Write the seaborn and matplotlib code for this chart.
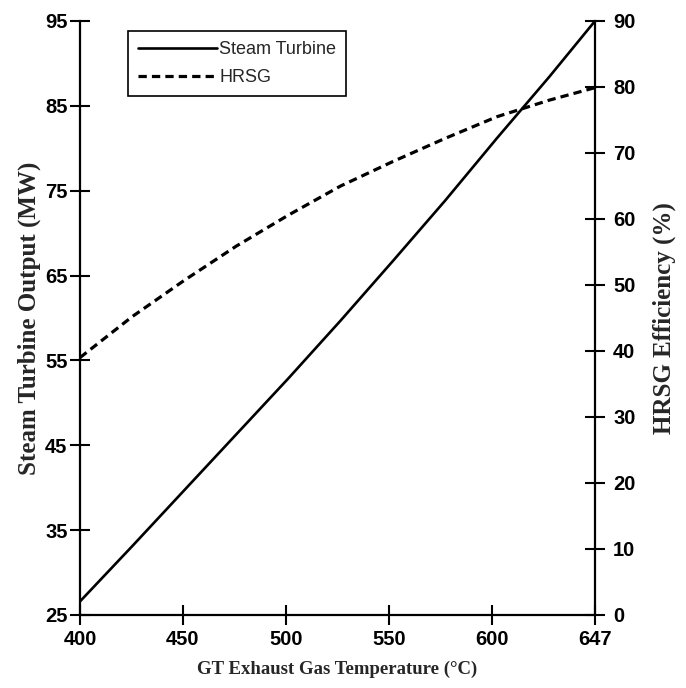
import numpy as np
import pandas as pd
import matplotlib
matplotlib.use("Agg")
import matplotlib.pyplot as plt
import seaborn as sns
from matplotlib.lines import Line2D

# ---- data ----
temperature = [400, 425, 450, 475, 500, 525, 550, 575, 600, 625, 647]
steam_turbine_mw = [26.6, 33.1, 39.7, 46.3, 52.9, 59.7, 66.7, 73.8, 81.2, 88.4, 95.0]
hrsg_efficiency = [39.0, 45.2, 50.7, 55.9, 60.6, 65.0, 68.7, 72.2, 75.5, 78.0, 79.9]

x_ticks_labels = ["400", "450", "500", "550", "600", "647"]
left_ticks = [25, 35, 45, 55, 65, 75, 85, 95]
right_ticks = [0, 10, 20, 30, 40, 50, 60, 70, 80, 90]

df = pd.DataFrame({"T": temperature, "ST": steam_turbine_mw, "HRSG": hrsg_efficiency})

sns.set_style("ticks")
plt.rcParams["font.family"] = ["Liberation Sans", "DejaVu Sans"]

fig = plt.figure(figsize=(6.86, 6.88), dpi=100)
ax = fig.add_axes([80 / 686, 1 - 615 / 688, 515 / 686, 594 / 688])
ax2 = ax.twinx()

dash = (0, (2.6, 1.6))
sns.lineplot(data=df, x="T", y="ST", ax=ax, color="black", linewidth=1.9)
sns.lineplot(data=df, x="T", y="HRSG", ax=ax2, color="black", linewidth=2.3,
             linestyle=dash)

ax.set_xlim(400, 647)
ax.set_ylim(25, 95)
ax2.set_ylim(0, 90)

ax.set_xticks(np.linspace(400, 647, len(x_ticks_labels)))
ax.set_xticklabels(x_ticks_labels)
ax.set_yticks(left_ticks)
ax2.set_yticks(right_ticks)

for lab in ax.get_xticklabels() + ax.get_yticklabels() + ax2.get_yticklabels():
    lab.set_fontfamily("Liberation Sans")
    lab.set_fontsize(14.5)
    lab.set_fontweight("bold")

for a in (ax, ax2):
    a.tick_params(direction="inout", length=14, width=1.5, colors="black", pad=2)
    for s in a.spines.values():
        s.set_linewidth(1.6)
        s.set_color("black")
    a.spines["top"].set_visible(False)
ax.spines["right"].set_visible(False)
ax2.spines["left"].set_visible(False)
ax2.spines["bottom"].set_visible(False)
ax.tick_params(axis="x", pad=4)
ax2.tick_params(axis="y", pad=6)

xlabel_font = dict(family="Liberation Serif", size=13.5, weight="bold")
ylabel_font = dict(family="Liberation Serif", size=18, weight="bold")
ax.set_xlabel("GT Exhaust Gas Temperature (\u00b0C)", fontdict=xlabel_font, labelpad=8)
ax.set_ylabel("Steam Turbine Output (MW)", fontdict=ylabel_font, labelpad=3)
ax2.set_ylabel("HRSG Efficiency (%)", fontdict=ylabel_font, labelpad=12)

handles = [Line2D([], [], color="black", linewidth=1.9),
           Line2D([], [], color="black", linewidth=2.3, linestyle=dash)]
leg = ax.legend(handles, ["Steam Turbine", "HRSG"], loc="upper left",
                bbox_to_anchor=(0.093, 0.983), borderaxespad=0, frameon=True,
                fancybox=False, edgecolor="black", framealpha=1, handlelength=4.4,
                handletextpad=0.1, borderpad=0.55, labelspacing=0.6,
                prop=dict(family="Liberation Sans", size=13))
leg.get_frame().set_linewidth(1.2)
if ax2.get_legend() is not None:
    ax2.get_legend().remove()

fig.savefig("out.png", dpi=100)
